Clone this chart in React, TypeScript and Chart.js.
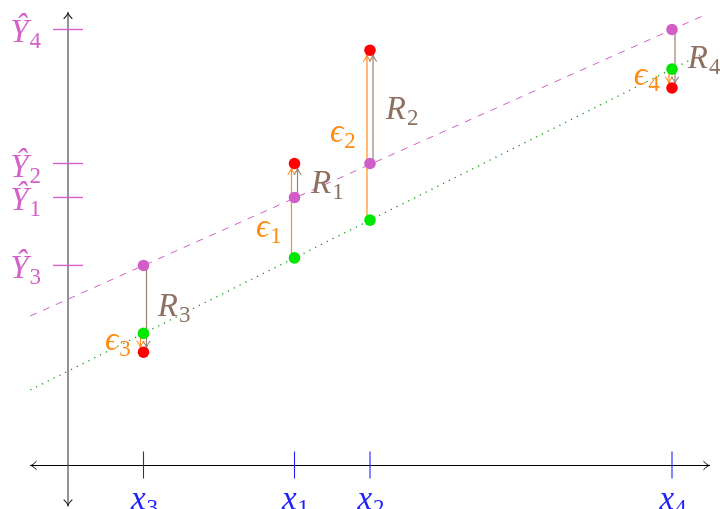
import { useEffect, useRef } from "react";
import { Chart, registerables } from "chart.js";

Chart.register(...registerables);

// Observations (index 0..3 -> subscript 1..4)
const obsIndex = ["1", "2", "3", "4"];
const xValues = [6, 8, 2, 16];
const observedY = [8, 11, 3, 10];
const fittedY = [7.1, 8.0, 5.3, 11.55];
const trueMeanY = [5.5, 6.5, 3.5, 10.5];

// End points of the fitted (dashed) and true (dotted) regression lines
const fitLineX = [-1, 16.95];
const fitLineY = [3.96, 11.97];
const trueLineX = [-1, 16.9];
const trueLineY = [2.0, 10.95];

// Axis extents
const xAxisFrom = -1.0;
const xAxisTo = 17.0;
const yAxisFrom = -1.07;
const yAxisTo = 12.0;

// Label anchors (left edge, baseline) in data units
const epsLabelPos = [
  [4.98, 6.04],
  [6.94, 8.56],
  [0.98, 3.07],
  [14.99, 10.09],
];
const resLabelPos = [
  [6.44, 7.23],
  [8.42, 9.19],
  [2.38, 3.97],
  [16.42, 10.54],
];

const X_MIN = -68 / 37.75;
const X_MAX = (720 - 68) / 37.75;
const Y_MAX = 465.5 / 37.75;
const Y_MIN = -43.5 / 37.75;

const ARROW_OFFSET = 0.08;

const FONT = '"Liberation Serif", "DejaVu Serif", serif';
const MAGENTA = "#d05ec6";
const MAGENTA_TEXT = "#d462c8";
const MAGENTA_TICK = "#d85fce";
const GREEN = "#00e800";
const RED = "#ff0000";
const ORANGE = "#ff8c1a";
const ORANGE_TEXT = "#ff8a10";
const BROWN = "#9a8272";
const BROWN_TEXT = "#8c7060";
const BLUE = "#2020ff";

function drawLabel(
  ctx: CanvasRenderingContext2D,
  main: string,
  sub: string,
  x: number,
  baseline: number,
  color: string,
  align: "left" | "center" | "right"
) {
  ctx.save();
  ctx.fillStyle = color;
  ctx.textBaseline = "alphabetic";
  ctx.textAlign = "left";
  const mainFont = `italic 33px ${FONT}`;
  const subFont = `23px ${FONT}`;
  ctx.font = mainFont;
  const wm = ctx.measureText(main).width;
  ctx.font = subFont;
  const ws = ctx.measureText(sub).width;
  const total = wm + ws + 1;
  let left = x;
  if (align === "center") left = x - total / 2;
  else if (align === "right") left = x - total;
  ctx.font = mainFont;
  ctx.fillText(main, left, baseline);
  ctx.font = subFont;
  ctx.fillText(sub, left + wm + 1, baseline + 6);
  ctx.restore();
}

function chevron(
  ctx: CanvasRenderingContext2D,
  tipX: number,
  tipY: number,
  dx: number,
  dy: number,
  len: number,
  half: number,
  color: string,
  width: number
) {
  const bx = tipX - dx * len;
  const by = tipY - dy * len;
  const nx = -dy;
  const ny = dx;
  ctx.save();
  ctx.strokeStyle = color;
  ctx.lineWidth = width;
  ctx.lineCap = "round";
  ctx.lineJoin = "round";
  ctx.beginPath();
  ctx.moveTo(bx + nx * half, by + ny * half);
  ctx.quadraticCurveTo(tipX - dx * len * 0.35, tipY - dy * len * 0.35, tipX, tipY);
  ctx.quadraticCurveTo(tipX - dx * len * 0.35, tipY - dy * len * 0.35, bx - nx * half, by - ny * half);
  ctx.stroke();
  ctx.restore();
}

const axesPlugin = {
  id: "axesPlugin",
  beforeDatasetsDraw(chart: any) {
    const ctx: CanvasRenderingContext2D = chart.ctx;
    const xs = chart.scales.x;
    const ys = chart.scales.y;
    const x0 = xs.getPixelForValue(0);
    const y0 = ys.getPixelForValue(0);

    ctx.save();
    // x axis
    const xl = xs.getPixelForValue(xAxisFrom);
    const xr = xs.getPixelForValue(xAxisTo);
    ctx.strokeStyle = "#000";
    ctx.lineWidth = 1;
    ctx.beginPath();
    ctx.moveTo(xl, y0);
    ctx.lineTo(xr, y0);
    ctx.stroke();
    chevron(ctx, xl, y0, -1, 0, 6, 4, "#000", 1);
    chevron(ctx, xr, y0, 1, 0, 6, 4, "#000", 1);

    // y axis
    const yt = ys.getPixelForValue(yAxisTo);
    const yb = ys.getPixelForValue(yAxisFrom);
    ctx.strokeStyle = "#4a4a4a";
    ctx.lineWidth = 1.2;
    ctx.beginPath();
    ctx.moveTo(x0, yb);
    ctx.lineTo(x0, yt);
    ctx.stroke();
    chevron(ctx, x0, yt, 0, -1, 6, 4, "#222", 1.1);
    chevron(ctx, x0, yb, 0, 1, 6, 4, "#222", 1.1);

    // x ticks and labels
    xValues.forEach((xv, i) => {
      const px = xs.getPixelForValue(xv);
      ctx.strokeStyle = BLUE;
      ctx.lineWidth = 1.1;
      ctx.beginPath();
      ctx.moveTo(px, y0 - 14);
      ctx.lineTo(px, y0 + 13);
      ctx.stroke();
      drawLabel(ctx, "x", obsIndex[i], px + 1, y0 + 43, BLUE, "center");
    });

    // y ticks (fitted values) and labels
    fittedY.forEach((yv, i) => {
      const py = ys.getPixelForValue(yv);
      ctx.strokeStyle = MAGENTA_TICK;
      ctx.lineWidth = 1.4;
      ctx.beginPath();
      ctx.moveTo(x0 - 15, py);
      ctx.lineTo(x0 + 15, py);
      ctx.stroke();
      drawLabel(ctx, "\u0176", obsIndex[i], x0 - 27, py + 13, MAGENTA_TEXT, "right");
    });
    ctx.restore();
  },
  afterDatasetDraw(chart: any, args: any) {
    const ds = chart.data.datasets[args.index];
    if (ds.label !== "eps" && ds.label !== "res") return;
    const ctx: CanvasRenderingContext2D = chart.ctx;
    const xs = chart.scales.x;
    const ys = chart.scales.y;
    const isEps = ds.label === "eps";
    const from = isEps ? trueMeanY : fittedY;
    const shift = isEps ? -ARROW_OFFSET : ARROW_OFFSET;
    const color = isEps ? ORANGE : BROWN;
    xValues.forEach((xv, i) => {
      const px = xs.getPixelForValue(xv + shift);
      const pyFrom = ys.getPixelForValue(from[i]);
      const pyTo = ys.getPixelForValue(observedY[i]);
      const dir = pyTo < pyFrom ? -1 : 1;
      chevron(ctx, px, pyTo - dir * 4, 0, dir, 7, 3.5, color, 1.1);
    });
    const pos = isEps ? epsLabelPos : resLabelPos;
    pos.forEach((p, i) => {
      drawLabel(
        ctx,
        isEps ? "\u03F5" : "R",
        obsIndex[i],
        xs.getPixelForValue(p[0]),
        ys.getPixelForValue(p[1]),
        isEps ? ORANGE_TEXT : BROWN_TEXT,
        "left"
      );
    });
  },
};

function segments(from: number[], to: number[], shift: number) {
  const out: { x: number; y: number | null }[] = [];
  xValues.forEach((xv, i) => {
    out.push({ x: xv + shift, y: from[i] });
    out.push({ x: xv + shift, y: to[i] });
    out.push({ x: xv + shift, y: null });
  });
  return out;
}

export default function App() {
  const ref = useRef<HTMLCanvasElement | null>(null);

  useEffect(() => {
    if (!ref.current) return;
    const points = (ys: number[]) => xValues.map((x, i) => ({ x, y: ys[i] }));
    const chart = new Chart(ref.current, {
      type: "scatter",
      data: {
        datasets: [
          {
            label: "fitLine",
            data: fitLineX.map((x, i) => ({ x, y: fitLineY[i] })),
            showLine: true,
            borderColor: MAGENTA,
            borderWidth: 1,
            borderDash: [7, 7],
            pointRadius: 0,
            order: 10,
          },
          {
            label: "trueLine",
            data: trueLineX.map((x, i) => ({ x, y: trueLineY[i] })),
            showLine: true,
            borderColor: "#1aa01a",
            borderWidth: 1.3,
            borderDash: [1.3, 5.2],
            pointRadius: 0,
            order: 9,
          },
          {
            label: "eps",
            data: segments(trueMeanY, observedY, -ARROW_OFFSET),
            showLine: true,
            spanGaps: false,
            borderColor: ORANGE,
            borderWidth: 1.2,
            pointRadius: 0,
            order: 8,
          },
          {
            label: "res",
            data: segments(fittedY, observedY, ARROW_OFFSET),
            showLine: true,
            spanGaps: false,
            borderColor: BROWN,
            borderWidth: 1.2,
            pointRadius: 0,
            order: 7,
          },
          {
            label: "fitted",
            data: points(fittedY),
            pointRadius: 5.8,
            pointBackgroundColor: MAGENTA,
            pointBorderWidth: 0,
            order: 3,
          },
          {
            label: "trueMean",
            data: points(trueMeanY),
            pointRadius: 5.8,
            pointBackgroundColor: GREEN,
            pointBorderWidth: 0,
            order: 2,
          },
          {
            label: "observed",
            data: points(observedY),
            pointRadius: 5.8,
            pointBackgroundColor: RED,
            pointBorderWidth: 0,
            order: 1,
          },
        ] as any,
      },
      options: {
        animation: false,
        responsive: false,
        maintainAspectRatio: false,
        events: [],
        layout: { padding: 0, autoPadding: false },
        plugins: { legend: { display: false }, tooltip: { enabled: false } },
        scales: {
          x: { type: "linear", display: false, min: X_MIN, max: X_MAX },
          y: { type: "linear", display: false, min: Y_MIN, max: Y_MAX },
        },
      },
      plugins: [axesPlugin as any],
    });
    return () => chart.destroy();
  }, []);

  return (
    <div style={{ position: "fixed", left: 0, top: 0, width: 720, height: 509, background: "#fff" }}>
      <canvas ref={ref} width={720} height={509} style={{ display: "block" }} />
    </div>
  );
}
